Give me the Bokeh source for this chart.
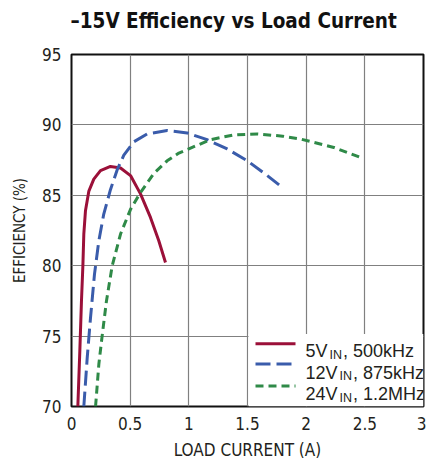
from bokeh.plotting import figure
from bokeh.models import FixedTicker, Range1d, Title
from bokeh.core.properties import value
from bokeh.embed import file_html
from bokeh.resources import INLINE

# ---------------- data ----------------
title_text = "\u201315V Efficiency vs Load Current"
x_label = "LOAD CURRENT (A)"
y_label = "EFFICIENCY (%)"
x_ticks = [0, 0.5, 1, 1.5, 2, 2.5, 3]
x_tick_labels = ["0", "0.5", "1", "1.5", "2", "2.5", "3"]
y_ticks = [70, 75, 80, 85, 90, 95]
y_tick_labels = ["70", "75", "80", "85", "90", "95"]

i_5v = [0.054, 0.071, 0.085, 0.097, 0.105, 0.119, 0.148, 0.19, 0.247, 0.332,
        0.418, 0.503, 0.588, 0.673, 0.744, 0.801]
eff_5v = [70.0, 73.95, 77.5, 80.0, 82.25, 83.9, 85.3, 86.15, 86.75, 87.05,
          86.94, 86.4, 85.1, 83.43, 81.77, 80.23]

i_12v = [0.105, 0.134, 0.162, 0.196, 0.233, 0.275, 0.332, 0.389, 0.446, 0.531,
         0.645, 0.815, 0.986, 1.156, 1.327, 1.497, 1.668, 1.796]
eff_12v = [70.0, 73.47, 76.3, 79.4, 81.77, 83.67, 85.4, 86.8, 87.85, 88.8,
           89.36, 89.6, 89.43, 88.95, 88.29, 87.46, 86.4, 85.56]

i_24v = [0.205, 0.233, 0.261, 0.298, 0.347, 0.418, 0.503, 0.588, 0.702, 0.815,
         0.915, 1.0, 1.185, 1.383, 1.583, 1.8, 1.95, 2.236, 2.491]
eff_24v = [70.0, 73.0, 75.0, 77.5, 80.0, 82.25, 84.0, 85.2, 86.55, 87.45,
           88.0, 88.3, 88.95, 89.29, 89.36, 89.2, 89.0, 88.4, 87.6]

legend_main = ["5V", "12V", "24V"]
legend_sub = ["IN", "IN", "IN"]
legend_rest = [", 500kHz", ", 875kHz", ", 1.2MHz"]

# ---------------- styles ----------------
colors = ["#9b1039", "#3a5cab", "#2f8a48"]
dashes = ["solid", "15 6", "8 5"]
TXT = "#231f20"
COND = "DejaVu Sans Condensed"
SANS = "Liberation Sans"

FW, FH = 352, 352
X0, X1 = 0, 3
Y0, Y1 = 70, 95

p = figure(width=426, height=466,
           x_range=Range1d(X0, X1), y_range=Range1d(Y0, Y1),
           output_backend="svg", toolbar_location=None,
           min_border_left=71, min_border_right=3,
           min_border_top=54, min_border_bottom=60)
p.background_fill_color = "white"
p.border_fill_color = "white"
p.outline_line_color = "#111111"
p.outline_line_width = 2

# real title, with a small spacer title stacked between it and the frame
p.title.text = title_text
p.title.text_font = COND
p.title.text_font_style = "bold"
p.title.text_font_size = "20.5px"
p.title.text_color = "#111111"
p.title.align = "left"
p.title.offset = -1
p.title.standoff = 0
p.add_layout(Title(text=" ", text_font_size="1px", standoff=19), "above")

for ax in (p.xaxis[0], p.yaxis[0]):
    ax.axis_line_color = None
    ax.major_tick_line_color = None
    ax.minor_tick_line_color = None
    ax.major_tick_out = 0
    ax.major_tick_in = 0
    ax.major_label_text_font = COND
    ax.major_label_text_font_size = "17px"
    ax.major_label_text_color = TXT
    ax.axis_label_text_font = COND
    ax.axis_label_text_font_style = "normal"
    ax.axis_label_text_color = TXT

p.xaxis.ticker = FixedTicker(ticks=x_ticks)
p.xaxis.major_label_overrides = {t: l for t, l in zip(x_ticks, x_tick_labels)}
p.yaxis.ticker = FixedTicker(ticks=y_ticks)
p.yaxis.major_label_overrides = {t: l for t, l in zip(y_ticks, y_tick_labels)}
p.xaxis.axis_label = x_label
p.yaxis.axis_label = y_label
p.xaxis.axis_label_text_font_size = "17px"
p.yaxis.axis_label_text_font_size = "15px"
p.xaxis.major_label_standoff = 10
p.yaxis.major_label_standoff = 10
p.xaxis.axis_label_standoff = 7
p.yaxis.axis_label_standoff = 10

p.xgrid.ticker = FixedTicker(ticks=x_ticks)
p.ygrid.ticker = FixedTicker(ticks=y_ticks)
for g in (p.xgrid[0], p.ygrid[0]):
    g.grid_line_color = "#808080"
    g.grid_line_width = 1.2

series = [(i_5v, eff_5v), (i_12v, eff_12v), (i_24v, eff_24v)]
for (xs, ys), c, d in zip(series, colors, dashes):
    p.line(xs, ys, line_color=c, line_width=3, line_dash=d, line_cap="butt",
           line_join="round")

# ---------------- legend (frame px -> data) ----------------
dxp = (X1 - X0) / FW
dyp = (Y1 - Y0) / FH
def lx(px):
    return X0 + px * dxp
def ly(px):
    return Y0 + px * dyp

box_left_px, box_top_px = 177, 72.5
p.quad(left=[lx(box_left_px)], right=[X1], bottom=[Y0], top=[ly(box_top_px)],
       fill_color="white", line_color=None)

row_line_px = [62.8, 42.4, 20.5]
row_base_px = [55.5, 34.0, 12.2]
line_x0_px, line_x1_px = 184, 224
text_x_px = 234

W = {"0": .556, "1": .556, "2": .556, "3": .556, "4": .556, "5": .556, "6": .556,
     "7": .556, "8": .556, "9": .556, "V": .667, "I": .278, "N": .722, ",": .278,
     " ": .278, "k": .5, "H": .722, "z": .5, ".": .278, "M": .833}
def tw(s, fs):
    return sum(W.get(ch, .556) for ch in s) * fs

MAIN_FS, SUB_FS = 18, 12.5
for k in range(3):
    yl = ly(row_line_px[k])
    p.line([lx(line_x0_px), lx(line_x1_px)], [yl, yl], line_color=colors[k],
           line_width=3, line_dash=dashes[k], line_cap="butt")
    xb = text_x_px
    p.text([lx(xb)], [ly(row_base_px[k])], text=[legend_main[k]],
           text_font=value(SANS), text_font_size=f"{MAIN_FS}px",
           text_color=TXT, text_baseline="alphabetic", text_align="left")
    xs_ = xb + tw(legend_main[k], MAIN_FS) + 2
    p.text([lx(xs_)], [ly(row_base_px[k] - 3.5)], text=[legend_sub[k]],
           text_font=value(SANS), text_font_size=f"{SUB_FS}px",
           text_color=TXT, text_baseline="alphabetic", text_align="left")
    xr = xs_ + tw(legend_sub[k], SUB_FS) + 1
    p.text([lx(xr)], [ly(row_base_px[k])], text=[legend_rest[k]],
           text_font=value(SANS), text_font_size=f"{MAIN_FS}px",
           text_color=TXT, text_baseline="alphabetic", text_align="left")

open("out.html", "w").write(file_html(p, INLINE))
